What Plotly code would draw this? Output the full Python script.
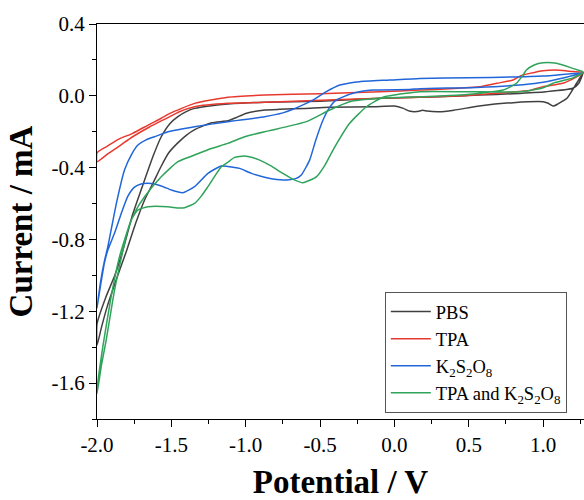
import plotly.graph_objects as go

# ---- data (potential V, current mA), each CV loop ----
pbs_v = [1.27, 1.225, 1.16, 1.10, 1.07, 1.03, 1.0, 0.8, 0.57, 0.4, 0.3, 0.22, 0.19, 0.15, 0.1, 0.06, 0.0,
         -0.14, -0.44, -0.6, -0.77, -0.87, -1.0, -1.06, -1.12, -1.23, -1.34, -1.40, -1.46, -1.52, -1.57,
         -1.62, -1.68, -1.74, -1.80, -1.86, -1.93, -1.97, -2.0,
         -2.0, -1.94, -1.88, -1.826, -1.76, -1.68, -1.62, -1.568, -1.51, -1.456, -1.40, -1.344, -1.23,
         -1.12, -0.873, -0.5, -0.1, 0.3, 0.57, 0.8, 1.02, 1.2, 1.24, 1.27]
pbs_i = [0.13, 0.07, -0.014, -0.045, -0.057, -0.04, -0.033, -0.038, -0.057, -0.08, -0.089, -0.085, -0.08,
         -0.088, -0.085, -0.07, -0.057, -0.061, -0.064, -0.07, -0.075, -0.079, -0.098, -0.12, -0.139,
         -0.15, -0.187, -0.22, -0.265, -0.32, -0.395, -0.48, -0.58, -0.71, -0.86, -1.0, -1.17, -1.29, -1.39,
         -1.27, -1.12, -1.0, -0.86, -0.66, -0.469, -0.33, -0.228, -0.155, -0.116, -0.088, -0.07, -0.055,
         -0.046, -0.036, -0.03, -0.014, -0.005, 0.004, 0.012, 0.023, 0.042, 0.07, 0.13]

tpa_v = [1.27, 1.225, 1.133, 1.0, 0.91, 0.776, 0.45, 0.0, -0.4, -0.77, -0.873, -1.12, -1.344, -1.45,
         -1.51, -1.568, -1.65, -1.76, -1.85, -1.93, -2.0,
         -2.0, -1.93, -1.85, -1.76, -1.65, -1.568, -1.51, -1.344, -1.12, -0.873, -0.5, -0.1, 0.17,
         0.574, 0.69, 0.798, 0.85, 0.91, 1.0, 1.11, 1.2, 1.27]
tpa_i = [0.13, 0.106, 0.07, 0.051, 0.03, 0.02, 0.0, -0.012, -0.022, -0.033, -0.036, -0.042, -0.061,
         -0.09, -0.116, -0.14, -0.175, -0.228, -0.28, -0.325, -0.367,
         -0.317, -0.28, -0.24, -0.209, -0.16, -0.125, -0.098, -0.042, -0.008, 0.004, 0.012, 0.023,
         0.032, 0.051, 0.07, 0.088, 0.112, 0.125, 0.14, 0.143, 0.135, 0.13]

kps_v = [1.27, 1.0, 0.865, 0.552, 0.17, 0.103, -0.144, -0.279, -0.39, -0.44, -0.48, -0.53, -0.57,
         -0.626, -0.66, -0.72, -0.817, -0.873, -0.962, -1.041, -1.075, -1.164, -1.254, -1.344, -1.423,
         -1.5, -1.568, -1.635, -1.703, -1.75, -1.793, -1.837, -1.88, -1.927, -1.95, -1.975, -2.0,
         -1.975, -1.95, -1.927, -1.87, -1.815, -1.77, -1.725, -1.67, -1.613, -1.523, -1.344, -1.12,
         -0.873, -0.75, -0.682, -0.6, -0.548, -0.458, -0.368, -0.3, -0.234, -0.032, 0.17, 0.5, 1.0, 1.27]
kps_i = [0.128, 0.075, 0.062, 0.047, 0.04, 0.035, 0.032, 0.014, -0.023, -0.07, -0.135, -0.25, -0.358,
         -0.441, -0.46, -0.469, -0.463, -0.454, -0.432, -0.404, -0.399, -0.391, -0.432, -0.506, -0.54,
         -0.525, -0.502, -0.488, -0.491, -0.51, -0.56, -0.655, -0.76, -0.859, -0.93, -1.05, -1.18,
         -1.03, -0.92, -0.84, -0.6, -0.413, -0.33, -0.274, -0.245, -0.228, -0.2, -0.172, -0.144,
         -0.116, -0.095, -0.075, -0.045, -0.024, 0.023, 0.06, 0.072, 0.079, 0.088, 0.097, 0.1, 0.11, 0.128]

mix_v = [1.27, 1.2, 1.067, 1.0, 0.85, 0.5, 0.17, 0.081, -0.077, -0.188, -0.301, -0.413, -0.47, -0.525,
         -0.615, -0.68, -0.75, -0.83, -0.906, -0.95, -1.007, -1.075, -1.12, -1.164, -1.254, -1.3, -1.344,
         -1.411, -1.45, -1.523, -1.658, -1.725, -1.77, -1.815, -1.85, -1.905, -1.961, -2.0,
         -2.0, -1.97, -1.938, -1.882, -1.793, -1.74, -1.68, -1.568, -1.456, -1.344, -1.231, -1.12,
         -1.007, -0.873, -0.817, -0.592, -0.435, -0.301, -0.099, 0.17, 0.44, 0.731, 0.821, 0.86, 0.888,
         0.94, 1.0, 1.09, 1.2, 1.27]
mix_i = [0.13, 0.1, 0.07, 0.045, 0.023, 0.023, 0.023, 0.014, -0.008, -0.061, -0.153, -0.302, -0.39,
         -0.451, -0.484, -0.465, -0.432, -0.39, -0.358, -0.345, -0.335, -0.343, -0.37, -0.395, -0.506,
         -0.56, -0.599, -0.623, -0.625, -0.618, -0.618, -0.636, -0.692, -0.803, -0.9, -1.119, -1.398, -1.64,
         -1.66, -1.5, -1.36, -1.082, -0.748, -0.64, -0.562, -0.451, -0.367, -0.33, -0.293, -0.265,
         -0.228, -0.2, -0.19, -0.144, -0.079, -0.033, -0.014, -0.005, 0.004, 0.032, 0.07, 0.11, 0.144,
         0.172, 0.184, 0.181, 0.153, 0.134]

names = ["PBS", "TPA", "K<sub>2</sub>S<sub>2</sub>O<sub>8</sub>",
         "TPA and K<sub>2</sub>S<sub>2</sub>O<sub>8</sub>"]
colors = ["#404040", "#e8392f", "#2166d9", "#2fa35a"]

x_ticks = [-2.0, -1.5, -1.0, -0.5, 0.0, 0.5, 1.0]
y_ticks = [0.4, 0.0, -0.4, -0.8, -1.2, -1.6]

FONT = "Liberation Serif, Times New Roman, serif"

fig = go.Figure()
for vx, iy, nm, col in zip([pbs_v, tpa_v, kps_v, mix_v], [pbs_i, tpa_i, kps_i, mix_i], names, colors):
    fig.add_trace(go.Scatter(x=vx, y=iy, mode="lines", name=nm,
                             line=dict(color=col, width=1.5, shape="spline", smoothing=0.5)))

axis_common = dict(showline=True, linecolor="black", linewidth=1.3, showgrid=False, zeroline=False,
                   automargin=False,
                   ticks="outside", ticklen=7, tickwidth=1.3, tickcolor="black",
                   tickfont=dict(family=FONT, size=21, color="black"))

fig.update_xaxes(range=[-2.0, 1.275], tickvals=x_ticks, ticktext=[f"{v:.1f}" for v in x_ticks],
                 mirror=True,
                 minor=dict(ticks="outside", ticklen=4, tickwidth=1.3, tickcolor="black", dtick=0.25,
                            tick0=0, showgrid=False),
                 title=dict(text="<b>Potential / V</b>", font=dict(family=FONT, size=33, color="black"),
                            standoff=19),
                 **axis_common)
fig.update_yaxes(range=[-1.8, 0.4], tickvals=y_ticks, ticktext=[f"{v:.1f}" for v in y_ticks],
                 minor=dict(ticks="outside", ticklen=4, tickwidth=1.3, tickcolor="black", dtick=0.2,
                            tick0=0, showgrid=False),
                 title=dict(text="<b>Current / mA</b>", font=dict(family=FONT, size=33, color="black"),
                            standoff=8),
                 **axis_common)

fig.update_layout(
    width=584, height=500,
    margin=dict(l=97, r=0, t=24, b=81, autoexpand=False),
    paper_bgcolor="white", plot_bgcolor="white",
    showlegend=True,
    legend=dict(x=0.591, y=0.015, xanchor="left", yanchor="bottom",
                bordercolor="#555555", borderwidth=1, bgcolor="white", itemwidth=40,
                font=dict(family=FONT, size=18.5, color="black"), tracegroupgap=0),
)

fig.write_html("out.html", config={"displayModeBar": False},
               post_script="document.body.style.margin='0px';"
                           "document.body.style.overflow='hidden';")
